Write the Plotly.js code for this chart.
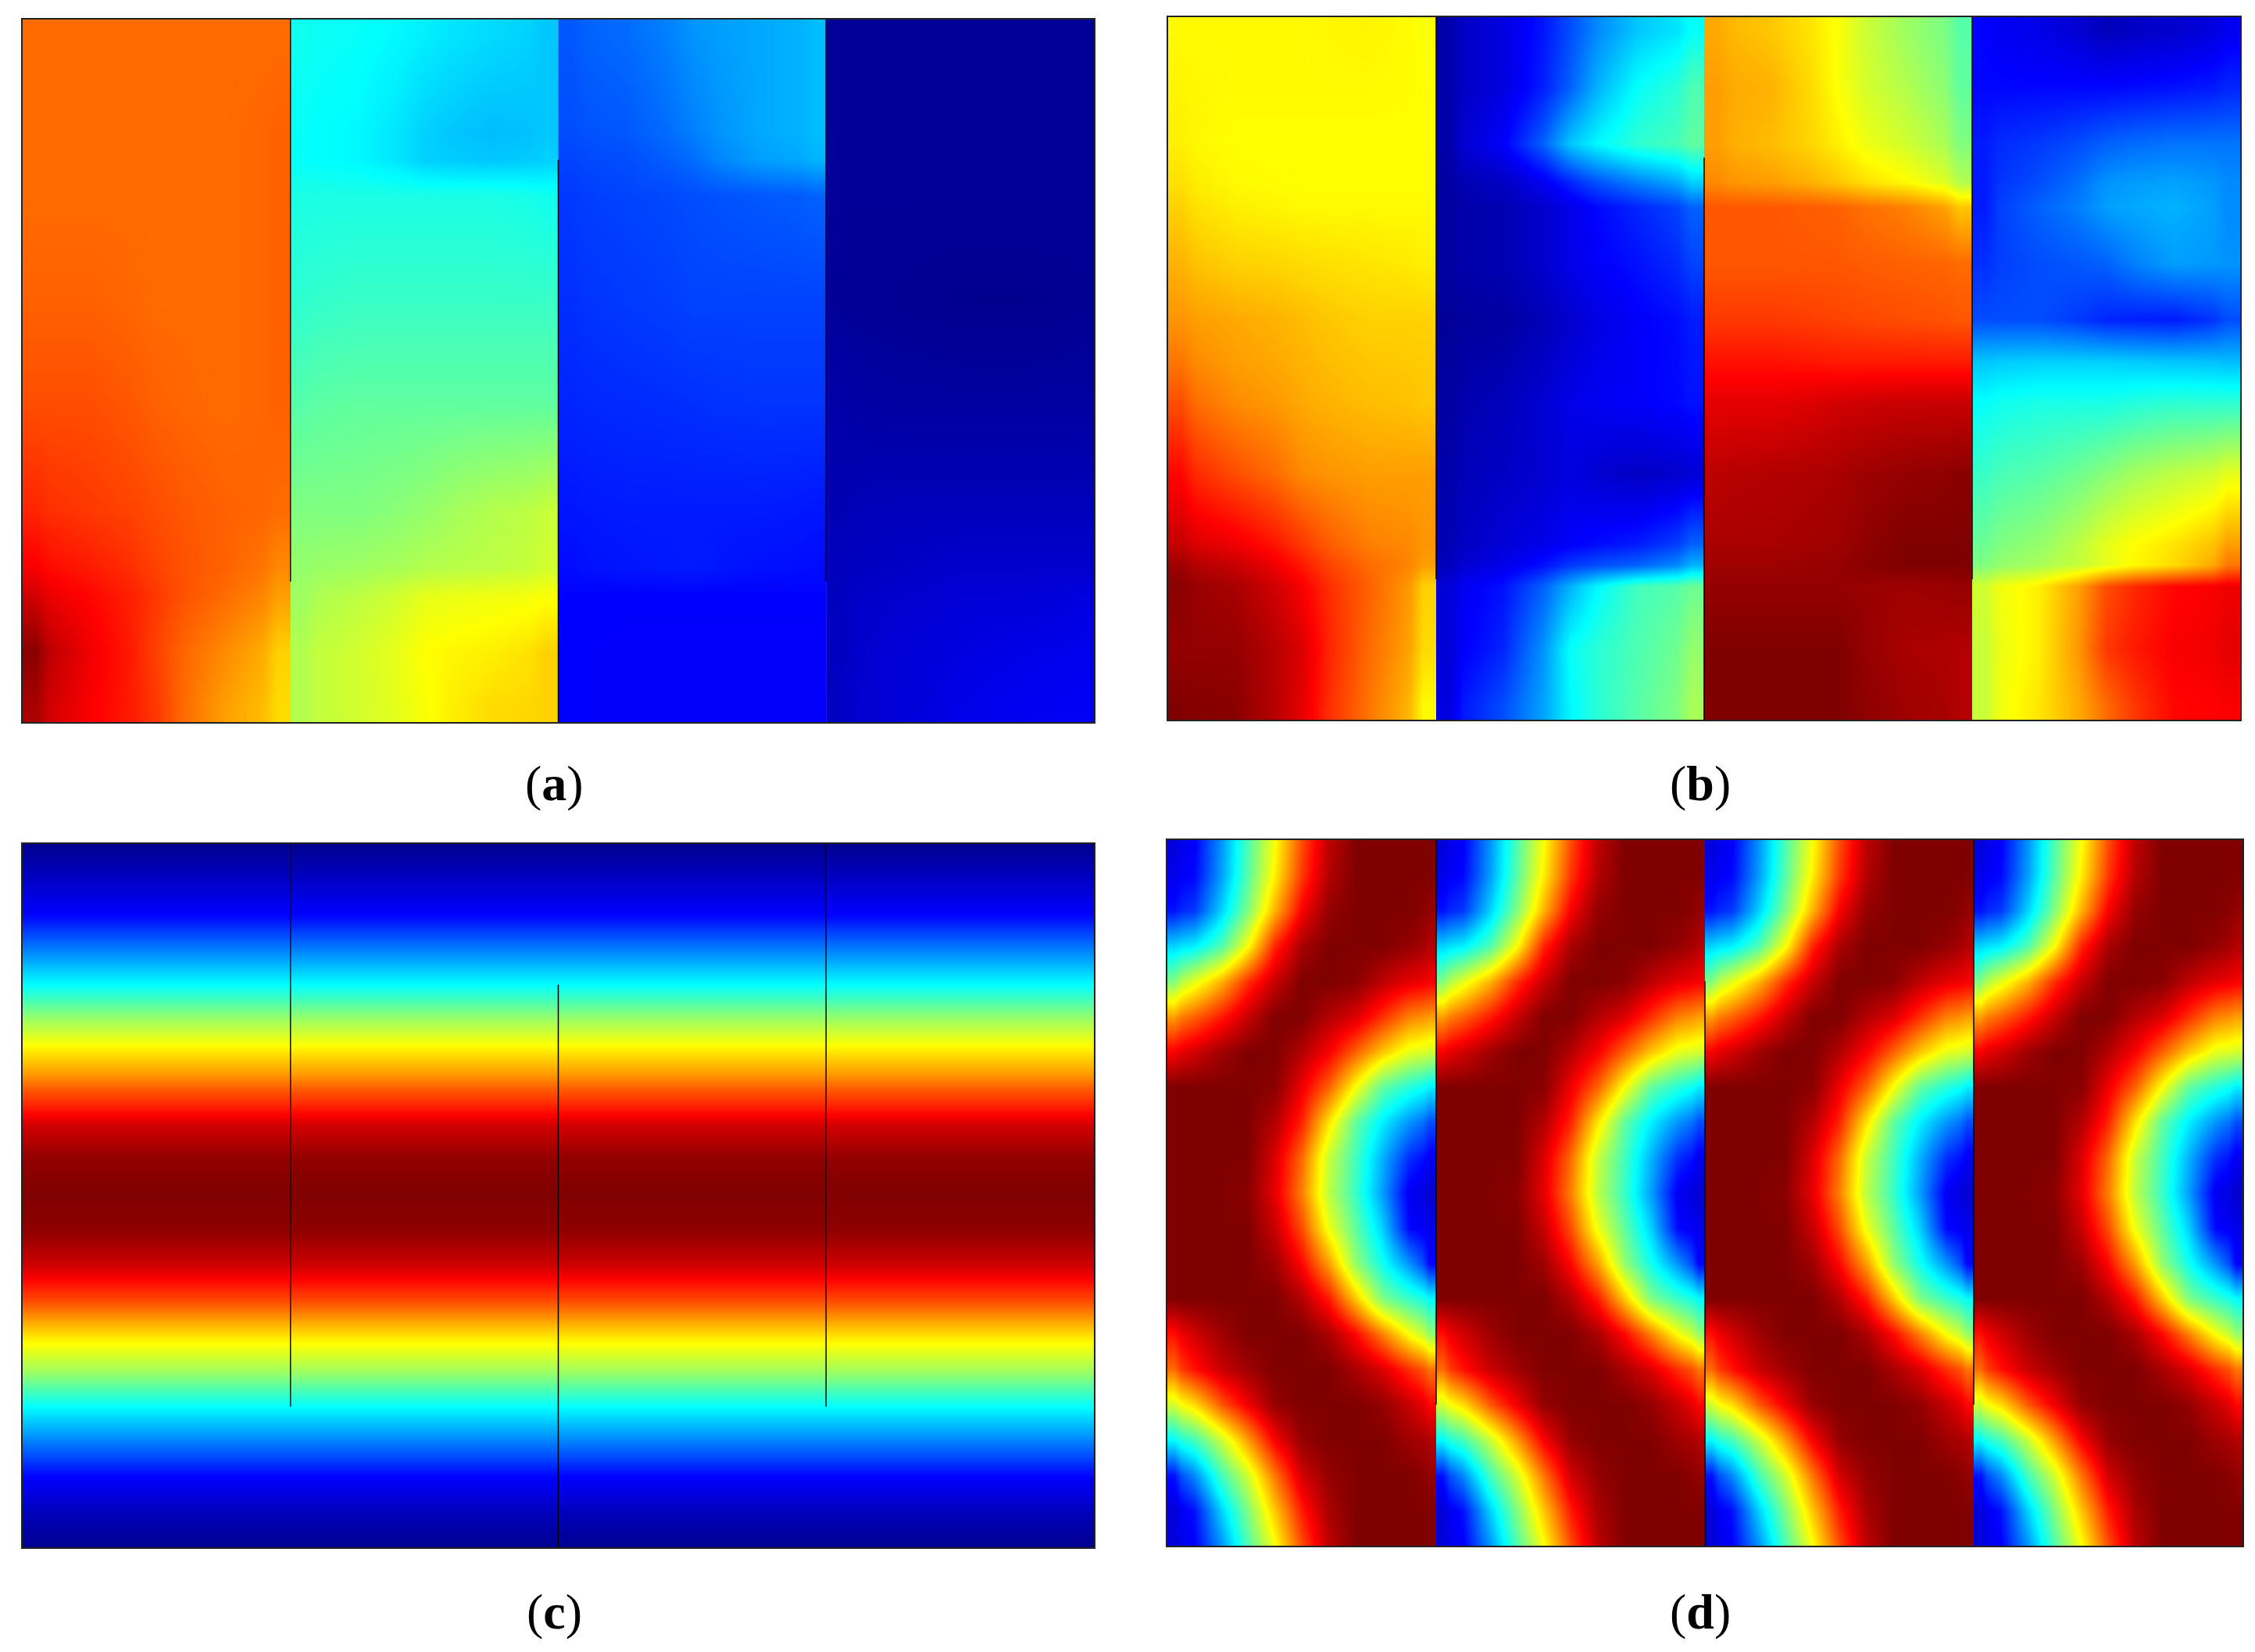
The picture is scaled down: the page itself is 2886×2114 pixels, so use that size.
<!DOCTYPE html>
<html><head><meta charset="utf-8">
<script src="https://cdn.plot.ly/plotly-3.0.1.min.js"></script>
<style>html,body{margin:0;padding:0;background:#fff}</style></head>
<body><div id="chart" style="width:2886px;height:2114px"></div>
<script>
const colEdges=[0,0.1,0.4,0.6,0.9,1];
const aRows=[0.02,0.16,0.2,0.25,0.4,0.55,0.7,0.78,0.82,0.9,0.98];
const a1=[[.77,.77,.77,.77,.77],[.77,.77,.77,.77,.78],[.77,.77,.77,.77,.78],[.77,.77,.77,.77,.78],[.78,.78,.77,.77,.78],[.80,.80,.78,.77,.78],[.84,.82,.80,.78,.77],[.88,.85,.81,.78,.74],[.92,.87,.82,.77,.72],[.99,.89,.81,.74,.67],[.96,.88,.82,.72,.66]];
const a2=[[.39,.38,.36,.34,.32],[.38,.37,.33,.31,.32],[.38,.37,.33,.32,.33],[.40,.40,.40,.40,.39],[.42,.43,.43,.43,.43],[.46,.47,.47,.47,.47],[.50,.50,.52,.55,.57],[.52,.53,.55,.56,.58],[.53,.56,.60,.61,.62],[.55,.58,.625,.64,.67],[.55,.58,.62,.66,.67]];
const a3=[[.21,.23,.27,.29,.31],[.20,.21,.25,.29,.31],[.19,.20,.23,.28,.30],[.18,.19,.20,.21,.22],[.17,.18,.19,.19,.19],[.16,.165,.17,.175,.175],[.145,.15,.15,.15,.145],[.135,.145,.15,.14,.135],[.125,.125,.125,.125,.125],[.125,.12,.12,.12,.12],[.125,.12,.12,.12,.12]];
const a4=[[.01,.01,.01,.01,.01],[.01,.01,.01,.01,.01],[.01,.01,.01,.01,.01],[.01,.01,.01,.01,.01],[.01,.005,0,0,.005],[.03,.02,.02,.02,.02],[.04,.05,.05,.05,.05],[.05,.06,.07,.07,.07],[.055,.07,.08,.08,.09],[.055,.08,.09,.10,.105],[.06,.08,.10,.11,.115]];

const bRows=[0.02,0.1,0.18,0.235,0.27,0.35,0.43,0.49,0.55,0.65,0.75,0.78,0.81,0.9,0.98];
const b1=[[.63,.63,.63,.635,.62],[.635,.63,.63,.63,.625],[.64,.625,.625,.625,.625],[.655,.63,.625,.625,.625],[.67,.64,.63,.63,.63],[.70,.67,.66,.65,.64],[.73,.71,.69,.67,.67],[.76,.72,.70,.68,.675],[.80,.74,.71,.69,.68],[.87,.80,.74,.72,.72],[.93,.89,.82,.75,.73],[.97,.93,.85,.77,.72],[.99,.96,.88,.78,.67],[.98,.98,.91,.77,.66],[1,.99,.90,.76,.63]];
const b2=[[.03,.09,.20,.32,.38],[.03,.09,.22,.38,.45],[.03,.12,.32,.42,.47],[.02,.06,.16,.25,.33],[.02,.04,.10,.16,.22],[.02,.04,.10,.14,.19],[.01,.02,.07,.12,.15],[.015,.035,.085,.12,.145],[.02,.05,.10,.12,.14],[.03,.06,.09,.06,.08],[.04,.08,.12,.15,.22],[.05,.10,.18,.22,.30],[.08,.14,.30,.44,.48],[.08,.16,.38,.45,.52],[.09,.20,.37,.46,.54]];
const b3=[[.71,.68,.62,.53,.46],[.72,.70,.62,.55,.47],[.72,.69,.64,.58,.50],[.74,.72,.68,.63,.55],[.79,.79,.78,.75,.68],[.79,.79,.79,.78,.77],[.82,.82,.81,.80,.79],[.86,.86,.85,.85,.85],[.90,.90,.92,.93,.93],[.94,.95,.96,.98,.99],[.96,.96,.97,1,1],[.97,.97,.98,1,1],[.98,.98,.98,.97,.98],[1,1,1,.96,.95],[1,1,1,.97,.95]];
const b4=[[.125,.10,.05,.07,.11],[.13,.13,.13,.14,.16],[.15,.18,.22,.24,.24],[.15,.20,.27,.285,.26],[.15,.22,.28,.30,.26],[.17,.20,.22,.28,.27],[.20,.20,.16,.15,.20],[.32,.33,.33,.32,.31],[.38,.40,.40,.42,.42],[.43,.46,.51,.56,.60],[.48,.52,.60,.65,.72],[.50,.54,.60,.66,.76],[.58,.64,.80,.87,.89],[.57,.64,.82,.88,.90],[.57,.65,.77,.87,.88]];

const cRows=[0,.05,.1,.15,.2,.25,.3,.325,.35,.375,.4,.45,.5,.55,.6,.65,.7,.75,.8,.85,.9,.95,1];
const cProfile=[0,.06,.125,.25,.375,.53,.66,.72,.79,.85,.92,.985,1,.985,.92,.80,.65,.53,.375,.25,.125,.05,0];
const cEdges=[0,4];

const dEdges=[0,.05,.15,.25,.35,.45,.55,.65,.75,.85,.95,1];
const dRows=[0,.05,.1,.15,.2,.25,.3,.35,.4,.45,.5,.55,.6,.65,.7,.75,.8,.85,.9,.95,1];
const dTile=[
[.08,.12,.27,.45,.62,.80,.94,1,1,1,1],
[.10,.13,.28,.46,.64,.82,.95,1,1,1,1],
[.14,.18,.33,.50,.70,.88,.98,1,1,1,.98],
[.33,.36,.45,.62,.84,.96,1,1,1,.98,.95],
[.50,.60,.70,.83,.93,1,1,.99,.94,.90,.88],
[.72,.78,.85,.93,1,1,.95,.91,.83,.75,.72],
[.88,.92,.97,1,1,.95,.88,.78,.68,.60,.58],
[1,1,1,1,.99,.89,.78,.62,.47,.41,.36],
[1,1,1,1,.95,.84,.65,.47,.36,.27,.20],
[1,1,1,1,.91,.77,.57,.44,.30,.17,.11],
[1,1,1,.99,.90,.75,.56,.43,.28,.11,.07],
[1,1,1,1,.93,.80,.61,.47,.33,.13,.10],
[1,1,1,1,.97,.87,.72,.52,.39,.27,.125],
[1,1,1,1,1,.95,.85,.68,.50,.43,.375],
[.86,.92,.97,1,1,1,.96,.87,.75,.62,.52],
[.77,.86,.93,.97,1,1,1,.96,.91,.83,.76],
[.58,.66,.79,.89,.98,1,1,1,.98,.93,.87],
[.37,.44,.57,.72,.88,.98,1,1,1,.97,.95],
[.14,.26,.44,.58,.76,.92,.98,1,1,1,.98],
[.08,.14,.33,.50,.68,.85,.96,1,1,1,1],
[.08,.12,.27,.45,.62,.80,.94,1,1,1,1]];

const jet=[[0,'#00008f'],[.125,'#0000ff'],[.375,'#00ffff'],[.625,'#ffff00'],[.875,'#ff0000'],[1,'#800000']];
const W=2886,H=2114;
const panels=[
 {id:'',  box:[29,25,1400,924],   cap:'(<b>a</b>)', cx:709, cy:1002},
 {id:'2', box:[1495,22,2867,921], cap:'(<b>b</b>)', cx:2176,cy:1002},
 {id:'3', box:[29,1080,1400,1980],cap:'(<b>c</b>)', cx:709, cy:2062},
 {id:'4', box:[1494,1075,2870,1978],cap:'(<b>d</b>)',cx:2176,cy:2062}
];
const blockOf=(start,edges)=>edges.map(v=>start+v);
const traces=[];
function add(p,x,y,z){traces.push({type:'heatmap',x,y,z,xaxis:'x'+p.id,yaxis:'y'+p.id,colorscale:jet,zmin:0,zmax:1,zsmooth:'best',showscale:false,hoverinfo:'skip'});}
[a1,a2,a3,a4].forEach((z,i)=>add(panels[0],blockOf(i,colEdges),aRows,z));
[b1,b2,b3,b4].forEach((z,i)=>add(panels[1],blockOf(i,colEdges),bRows,z));
add(panels[2],cEdges,cRows,cProfile.map(v=>[v]));
[0,1,2,3].forEach(i=>add(panels[3],blockOf(i,dEdges),dRows,dTile));

const layout={width:W,height:H,margin:{l:0,r:0,t:0,b:0,pad:0},paper_bgcolor:'#fff',plot_bgcolor:'#fff',showlegend:false,shapes:[],annotations:[]};
const seps=[[1,0,.8],[2,.2,1],[3,0,.8]];
panels.forEach(p=>{
  const [l,t,r,b]=p.box;
  layout['xaxis'+p.id]={domain:[l/W,r/W],range:[0,4],showticklabels:false,ticks:'',showgrid:false,zeroline:false,showline:true,mirror:true,linecolor:'#222',linewidth:2,anchor:'y'+p.id};
  layout['yaxis'+p.id]={domain:[1-b/H,1-t/H],range:[1,0],showticklabels:false,ticks:'',showgrid:false,zeroline:false,showline:true,mirror:true,linecolor:'#222',linewidth:2,anchor:'x'+p.id};
  seps.forEach(s=>layout.shapes.push({type:'line',xref:'x'+p.id,yref:'y'+p.id,x0:s[0],x1:s[0],y0:s[1],y1:s[2],line:{color:'#000',width:1.5}}));
  layout.annotations.push({xref:'paper',yref:'paper',x:p.cx/W,y:1-p.cy/H,xanchor:'center',yanchor:'middle',showarrow:false,text:p.cap,font:{family:'Liberation Serif',size:64,color:'#000'}});
});
Plotly.newPlot('chart',traces,layout,{staticPlot:true,displayModeBar:false});
</script></body></html>
